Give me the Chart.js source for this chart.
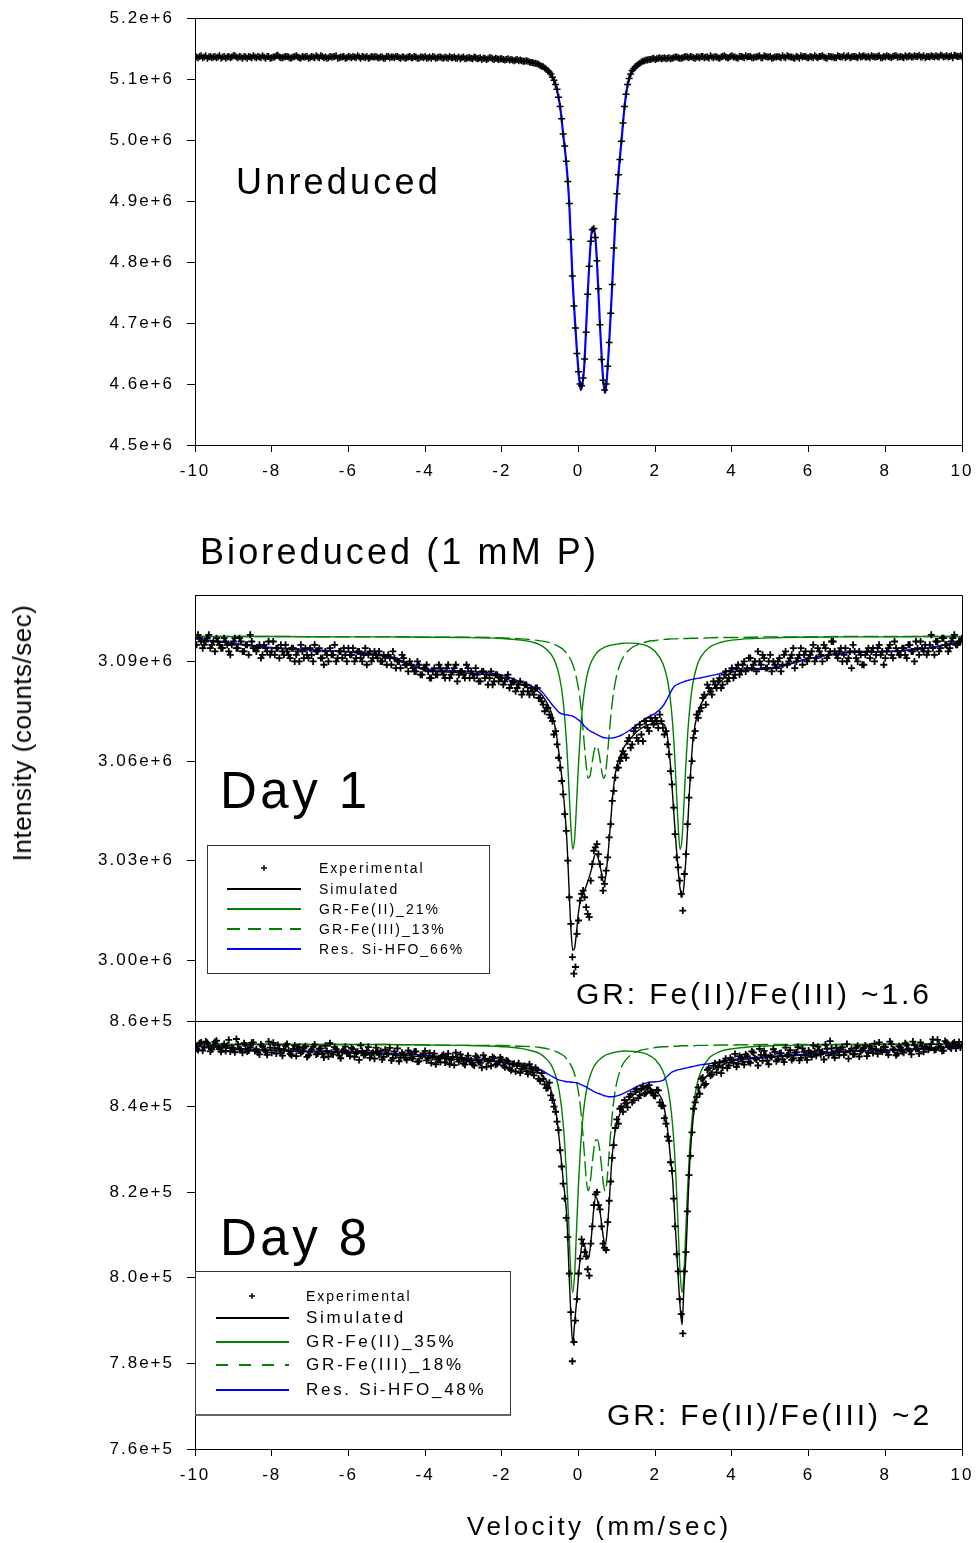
<!DOCTYPE html>
<html>
<head>
<meta charset="utf-8">
<script src="https://cdn.jsdelivr.net/npm/chart.js@4.4.1/dist/chart.umd.min.js"></script>
<style>
body { margin:0; background:#fff; width:976px; height:1543px; position:relative; overflow:hidden;
       font-family:"Liberation Sans", Arial, sans-serif; color:#000; }
canvas { position:absolute; left:0; }
.t { position:absolute; white-space:nowrap; line-height:1; z-index:2; }
.lg { position:absolute; border:1px solid #333; box-sizing:border-box; z-index:2; }
.row { position:absolute; left:0; right:0; height:20px; }
.row span { position:absolute; top:0; line-height:20px; white-space:nowrap; }
.smp { position:absolute; top:9px; height:1.5px; }
.cr { position:absolute; top:7px; }
</style>
</head>
<body>
<canvas id="c1" width="1000" height="520" style="top:-20px"></canvas>
<canvas id="c2" width="1000" height="490" style="top:560px"></canvas>
<canvas id="c3" width="1000" height="563" style="top:980px"></canvas>

<div class="t" style="left:236px;top:164px;font-size:36px;letter-spacing:3.2px">Unreduced</div>
<div class="t" style="left:200px;top:534px;font-size:36px;letter-spacing:3.1px">Bioreduced (1 mM P)</div>
<div class="t" style="left:220px;top:765px;font-size:51px;letter-spacing:3.5px">Day 1</div>
<div class="t" style="left:220px;top:1212px;font-size:51px;letter-spacing:3.5px">Day 8</div>
<div class="t" style="left:576px;top:979px;font-size:30px;letter-spacing:2.9px">GR: Fe(II)/Fe(III) ~1.6</div>
<div class="t" style="left:607px;top:1400px;font-size:30px;letter-spacing:2.9px">GR: Fe(II)/Fe(III) ~2</div>
<div class="t" style="left:467px;top:1513px;font-size:26px;letter-spacing:3.5px">Velocity (mm/sec)</div>
<div class="t" style="left:22px;top:733px;font-size:26px;letter-spacing:0.5px;transform:translate(-50%,-50%) rotate(-90deg)">Intensity (counts/sec)</div>

<div class="lg" style="left:207px;top:845px;width:283px;height:129px">
  <div class="row" style="top:12px"><svg class="cr" style="left:53px" width="6" height="6"><path d="M3 0V6M0 3H6" stroke="#000" stroke-width="1.4"/></svg><span style="left:111px;font-size:14px;letter-spacing:2px">Experimental</span></div>
  <div class="row" style="top:33px"><i class="smp" style="left:19px;width:74px;background:#000"></i><span style="left:111px;font-size:14px;letter-spacing:2px">Simulated</span></div>
  <div class="row" style="top:53px"><i class="smp" style="left:19px;width:74px;background:#008000"></i><span style="left:111px;font-size:14px;letter-spacing:2px">GR-Fe(II)_21%</span></div>
  <div class="row" style="top:73px"><i class="smp" style="left:19px;width:74px;background:repeating-linear-gradient(90deg,#008000 0 13px,transparent 13px 21px)"></i><span style="left:111px;font-size:14px;letter-spacing:2px">GR-Fe(III)_13%</span></div>
  <div class="row" style="top:93px"><i class="smp" style="left:19px;width:74px;background:#0000ff"></i><span style="left:111px;font-size:14px;letter-spacing:2px">Res. Si-HFO_66%</span></div>
</div>

<div class="lg" style="left:195px;top:1271px;width:316px;height:145px;border-bottom:2px solid #666">
  <div class="row" style="top:14px"><svg class="cr" style="left:53px" width="6" height="6"><path d="M3 0V6M0 3H6" stroke="#000" stroke-width="1.4"/></svg><span style="left:110px;font-size:14px;letter-spacing:2px">Experimental</span></div>
  <div class="row" style="top:36px"><i class="smp" style="left:20px;width:73px;background:#000"></i><span style="left:110px;font-size:17px;letter-spacing:2.7px">Simulated</span></div>
  <div class="row" style="top:60px"><i class="smp" style="left:20px;width:73px;background:#008000"></i><span style="left:110px;font-size:17px;letter-spacing:2.7px">GR-Fe(II)_35%</span></div>
  <div class="row" style="top:83px"><i class="smp" style="left:20px;width:73px;background:repeating-linear-gradient(90deg,#008000 0 12px,transparent 12px 23px)"></i><span style="left:110px;font-size:17px;letter-spacing:2.7px">GR-Fe(III)_18%</span></div>
  <div class="row" style="top:108px"><i class="smp" style="left:20px;width:73px;background:#0000ff"></i><span style="left:110px;font-size:17px;letter-spacing:2.7px">Res. Si-HFO_48%</span></div>
</div>

<script>
// velocity ticks and y ticks
var velTicks = [-10, -8, -6, -4, -2, 0, 2, 4, 6, 8, 10]
var yTicks1 = [4.5e6, 4.6e6, 4.7e6, 4.8e6, 4.9e6, 5.0e6, 5.1e6, 5.2e6]
var yTicks2 = [3.00e6, 3.03e6, 3.06e6, 3.09e6]
var yTicks3 = [7.6e5, 7.8e5, 8.0e5, 8.2e5, 8.4e5, 8.6e5]

// experimental channels, 0.04 mm/s apart: A = -10, -9.92 ... 10 ; B = -9.96, -9.88 ... 9.96
var velA = [], velB = []
for (var i = 0; i <= 250; i++) velA.push(Math.round((-10 + i * 0.08) * 100) / 100)
for (var j = 0; j < 250; j++) velB.push(Math.round((-9.96 + j * 0.08) * 100) / 100)

// Unreduced, counts/sec in thousands
var unredExpA = [
  5137,5135,5138,5136,5134,5137,5136,5135,5138,5136,
  5134,5137,5136,5138,5135,5136,5137,5134,5136,5138,
  5135,5136,5138,5134,5137,5135,5136,5139,5135,5136,
  5137,5134,5136,5138,5135,5137,5136,5134,5137,5135,
  5136,5138,5135,5134,5137,5136,5138,5135,5136,5134,
  5137,5135,5136,5138,5134,5136,5137,5135,5136,5137,
  5135,5136,5134,5137,5136,5135,5137,5134,5136,5135,
  5137,5135,5136,5134,5136,5137,5135,5134,5136,5135,
  5136,5134,5135,5137,5135,5134,5136,5135,5133,5135,
  5134,5136,5133,5135,5134,5132,5135,5133,5134,5132,
  5133,5131,5133,5132,5130,5132,5131,5129,5130,5128,
  5127,5126,5124,5121,5118,5114,5108,5098,5083,5055,
  5010,4965,4896,4777,4692,4620,4597,4641,4747,4834,
  4855,4802,4697,4606,4600,4668,4763,4870,4943,4998,
  5055,5091,5108,5117,5122,5126,5129,5131,5132,5133,
  5132,5134,5133,5135,5134,5133,5135,5136,5134,5135,
  5137,5135,5136,5134,5136,5137,5135,5136,5138,5135,
  5136,5134,5137,5136,5135,5138,5136,5134,5137,5135,
  5136,5137,5135,5136,5138,5135,5137,5136,5134,5136,
  5137,5135,5136,5138,5136,5135,5137,5134,5136,5137,
  5135,5136,5138,5135,5137,5136,5134,5137,5136,5135,
  5137,5136,5135,5138,5136,5137,5135,5136,5138,5136,
  5135,5137,5136,5138,5135,5136,5137,5135,5138,5136,
  5137,5135,5136,5138,5136,5137,5139,5136,5135,5137,
  5138,5136,5137,5139,5136,5138,5137,5135,5138,5137,5136
]
var unredExpB = [
  5136,5137,5135,5138,5136,5135,5137,5136,5134,5137,
  5136,5135,5138,5136,5137,5134,5136,5137,5135,5136,
  5137,5135,5136,5137,5134,5136,5138,5136,5135,5137,
  5136,5135,5137,5136,5134,5136,5137,5135,5136,5138,
  5135,5137,5136,5135,5136,5137,5134,5136,5137,5135,
  5136,5137,5135,5136,5137,5135,5134,5137,5136,5135,
  5136,5134,5137,5135,5136,5137,5135,5136,5134,5136,
  5135,5137,5134,5136,5135,5134,5136,5137,5134,5136,
  5135,5136,5134,5135,5136,5134,5133,5136,5134,5135,
  5133,5135,5134,5132,5134,5133,5135,5132,5133,5133,
  5132,5132,5131,5131,5131,5130,5130,5129,5129,5127,
  5126,5125,5122,5120,5116,5111,5103,5091,5070,5035,
  4990,4932,4837,4728,4650,4600,4610,4685,4793,4853,
  4840,4756,4640,4590,4629,4716,4823,4912,4968,5028,
  5075,5101,5114,5120,5124,5128,5130,5131,5132,5134,
  5133,5135,5134,5133,5135,5134,5136,5135,5134,5136,
  5136,5137,5135,5136,5135,5137,5136,5134,5136,5137,
  5135,5136,5138,5135,5137,5136,5135,5137,5136,5138,
  5137,5135,5136,5137,5135,5138,5136,5137,5135,5136,
  5136,5138,5135,5137,5136,5134,5136,5138,5137,5135,
  5137,5135,5136,5137,5138,5135,5137,5136,5135,5138,
  5136,5138,5137,5135,5137,5136,5138,5137,5136,5137,
  5138,5136,5137,5135,5137,5138,5136,5137,5138,5136,
  5136,5138,5137,5136,5138,5137,5136,5138,5137,5136,
  5137,5138,5136,5138,5137,5136,5138,5139,5137,5138
]
var unredFitVel = [
  -10,-8,-6,-4,-3,-2.4,-2,-1.6,-1.3,-1.1,
  -0.96,-0.88,-0.8,-0.72,-0.64,-0.56,-0.48,-0.4,-0.32,-0.24,
  -0.16,-0.08,0,0.06,0.12,0.16,0.24,0.32,0.36,0.4,
  0.44,0.48,0.56,0.64,0.7,0.76,0.8,0.88,0.96,1.04,
  1.12,1.2,1.28,1.36,1.44,1.6,1.8,2,2.4,3,
  4,6,8,10
]
var unredFit = [
  5136.2,5136.0,5135.8,5135.5,5135.0,5134.0,5132.6,5130.8,5128.5,5126.0,
  5121.5,5118.2,5114.0,5107.5,5097.5,5082.0,5055.0,5010.0,4964.0,4895.0,
  4778,4692,4621,4590,4608,4640,4748,4834,4856,4853,
  4840,4802,4697,4610,4586,4627,4668,4763,4868,4942,
  4998,5054,5090,5108,5117,5126,5131,5133,5134.8,5135.5,
  5136.0,5136.2,5136.3,5136.5
]

// Day 1
var day1ExpA = [
  3097,3098,3096,3095,3097,3094,3096,3097,3095,3094,
  3096,3093,3095,3097,3094,3096,3093,3095,3098,3094,
  3093,3095,3092,3094,3096,3093,3092,3094,3095,3092,
  3093,3091,3094,3092,3090,3093,3094,3091,3092,3095,
  3093,3091,3089,3092,3094,3092,3090,3093,3091,3092,
  3094,3092,3090,3093,3091,3092,3089,3093,3091,3092,
  3093,3090,3091,3092,3089,3091,3090,3088,3091,3089,
  3090,3088,3087,3089,3086,3088,3087,3085,3088,3086,
  3088,3086,3088,3085,3087,3089,3086,3087,3085,3088,
  3087,3085,3086,3084,3087,3086,3085,3083,3086,3084,
  3085,3084,3086,3083,3084,3082,3084,3081,3083,3080,
  3081,3082,3079,3078,3075,3076,3073,3068,3065,3058,
  3050,3039,3019,3001,2998,3012,3020,3019,3014,3024,
  3033,3035,3029,3021,3027,3037,3048,3055,3058,3061,
  3062,3066,3064,3069,3067,3071,3066,3072,3069,3072,
  3073,3070,3072,3068,3065,3057,3046,3031,3024,3015,
  3032,3049,3060,3069,3073,3076,3080,3083,3081,3084,
  3082,3085,3083,3087,3085,3088,3086,3089,3087,3090,
  3088,3091,3089,3087,3090,3092,3088,3090,3087,3089,
  3090,3087,3092,3089,3091,3094,3090,3092,3089,3093,
  3091,3093,3090,3094,3092,3095,3091,3093,3096,3092,
  3093,3090,3094,3091,3088,3093,3090,3092,3089,3093,
  3091,3094,3092,3095,3093,3091,3094,3092,3096,3093,
  3092,3094,3091,3095,3093,3096,3092,3094,3095,3093,
  3098,3092,3096,3094,3097,3095,3094,3097,3095,3096,3097
]
var day1ExpB = [
  3095,3097,3094,3096,3098,3095,3093,3096,3094,3097,
  3095,3092,3096,3094,3097,3093,3095,3092,3096,3094,
  3094,3091,3095,3093,3092,3096,3094,3091,3093,3095,
  3092,3094,3090,3093,3095,3091,3092,3094,3090,3093,
  3094,3091,3093,3090,3092,3095,3091,3093,3094,3090,
  3092,3094,3091,3093,3090,3094,3092,3090,3093,3091,
  3090,3092,3089,3091,3093,3088,3090,3092,3089,3087,
  3089,3087,3090,3086,3088,3089,3085,3087,3086,3089,
  3087,3085,3089,3086,3088,3084,3087,3086,3089,3085,
  3086,3088,3084,3087,3085,3083,3087,3084,3086,3085,
  3083,3085,3082,3084,3081,3083,3080,3083,3081,3082,
  3080,3082,3079,3077,3076,3074,3072,3069,3061,3054,
  3044,3030,3011,2996,3008,3018,3021,3016,3013,3029,
  3034,3032,3025,3023,3031,3041,3051,3058,3060,3063,
  3061,3067,3065,3070,3066,3068,3072,3070,3073,3071,
  3072,3074,3070,3069,3062,3053,3038,3028,3020,3026,
  3041,3055,3067,3074,3075,3079,3077,3082,3080,3083,
  3084,3082,3086,3084,3087,3085,3088,3086,3089,3087,
  3091,3088,3090,3093,3089,3091,3088,3092,3090,3088,
  3091,3089,3093,3090,3092,3088,3091,3094,3092,3090,
  3092,3095,3091,3093,3090,3094,3092,3096,3093,3091,
  3094,3092,3090,3093,3095,3091,3093,3089,3092,3094,
  3093,3090,3094,3092,3089,3093,3095,3091,3094,3092,
  3094,3092,3095,3093,3090,3094,3096,3093,3092,3095,
  3094,3096,3093,3097,3095,3093,3096,3098,3095,3096
]
// fit curves of the bioreduced samples share this velocity list
var fitVel = [
  -10,-8,-6,-5,-4,-3,-2,-1.5,-1.2,-1.0,
  -0.8,-0.7,-0.6,-0.5,-0.4,-0.3,-0.25,-0.2,-0.15,-0.1,
  -0.05,0,0.05,0.1,0.15,0.2,0.25,0.3,0.35,0.4,
  0.45,0.5,0.55,0.6,0.65,0.7,0.75,0.8,0.85,0.9,
  0.95,1.0,1.1,1.2,1.4,1.6,1.8,2.0,2.2,2.3,
  2.35,2.4,2.45,2.5,2.55,2.6,2.65,2.7,2.75,2.8,
  2.85,2.9,2.95,3.0,3.1,3.2,3.4,3.7,4,5,
  6,7,8,9,10
]
var day1Sim = [
  3096.8,3094.0,3092.8,3091.4,3087.4,3086.6,3085.2,3083.0,3081.8,3080.5,
  3077.0,3074.3,3069.7,3061.5,3051.0,3035.5,3022.5,3010.0,3003.0,3003.8,
  3008.8,3014.5,3018.0,3019.5,3020.8,3022.3,3024.0,3025.8,3028.0,3030.8,
  3032.0,3031.3,3029.0,3026.3,3023.5,3024.5,3029.5,3036.0,3043.5,3050.5,
  3055.5,3058.5,3062.0,3064.4,3067.4,3069.6,3070.8,3071.4,3071.3,3068.7,
  3064.5,3058.5,3050.5,3042.0,3034.0,3027.0,3021.5,3019.0,3022.5,3030.5,
  3041.0,3052.5,3061.5,3068.0,3074.0,3077.3,3080.5,3083.9,3086.8,3087.8,
  3090.8,3092.6,3092.9,3093.8,3095.9
]
var day1Fe2 = [
  3097.5,3097.5,3097.4,3097.4,3097.3,3097.2,3096.9,3096.4,3095.8,3095.0,
  3093.3,3091.9,3089.6,3085.6,3078.1,3063.4,3052.2,3040.4,3033.5,3036.7,
  3047.3,3059.2,3068.8,3075.9,3080.8,3084.4,3087.0,3088.9,3090.3,3091.3,
  3092.2,3092.9,3093.4,3093.8,3094.1,3094.4,3094.6,3094.8,3094.9,3095.0,
  3095.1,3095.2,3095.4,3095.5,3095.5,3095.3,3094.6,3093.0,3089.4,3085.5,
  3082.4,3078.0,3071.9,3063.3,3052.1,3040.3,3033.4,3036.6,3047.2,3059.1,
  3068.7,3075.8,3080.9,3084.5,3089.0,3091.5,3094.1,3095.7,3096.4,3097.1,
  3097.3,3097.4,3097.4,3097.5,3097.5
]
var day1Fe3 = [
  3097.5,3097.5,3097.4,3097.4,3097.3,3097.3,3097.1,3096.8,3096.5,3096.2,
  3095.8,3095.4,3095.0,3094.4,3093.6,3092.3,3091.5,3090.5,3089.1,3087.3,
  3084.9,3081.8,3077.5,3072.0,3065.3,3058.8,3054.9,3055.5,3059.0,3062.6,
  3064.5,3064.0,3061.3,3057.4,3054.8,3056.0,3061.3,3068.1,3074.4,3079.4,
  3083.2,3086.0,3089.7,3091.9,3094.2,3095.3,3096.0,3096.3,3096.6,3096.7,
  3096.7,3096.8,3096.8,3096.8,3096.8,3096.9,3096.9,3096.9,3096.9,3096.9,
  3096.9,3097.0,3097.0,3097.0,3097.0,3097.0,3097.1,3097.2,3097.2,3097.4,
  3097.4,3097.5,3097.5,3097.5,3097.5
]
var day1Res = [
  3096.9,3094.2,3093.0,3091.8,3087.8,3087.1,3085.9,3083.8,3082.4,3081.4,
  3078.7,3077.2,3075.8,3074.6,3074.1,3073.9,3073.8,3073.7,3073.5,3073.2,
  3072.8,3072.4,3071.9,3071.3,3070.6,3070.0,3069.5,3069.1,3068.8,3068.5,
  3068.2,3067.9,3067.6,3067.3,3067.1,3067.0,3066.9,3066.9,3066.9,3067.0,
  3067.1,3067.3,3067.7,3068.3,3069.8,3071.6,3073.2,3074.4,3076.5,3078.5,
  3079.6,3080.7,3081.7,3082.5,3082.9,3083.2,3083.5,3083.7,3083.9,3084.1,
  3084.3,3084.4,3084.6,3084.7,3084.9,3085.1,3085.6,3086.4,3087.5,3088.1,
  3090.9,3092.7,3093.0,3093.9,3096.0
]

// Day 8
var day8ExpA = [
  854.5,853.2,855.0,853.8,854.9,852.9,854.3,855.4,853.5,854.1,
  853.0,855.6,853.8,852.7,854.5,853.3,854.8,852.9,853.9,855.0,
  853.4,852.2,854.1,853.0,855.2,852.6,853.7,854.4,852.5,853.2,
  854.6,852.3,853.5,851.8,853.9,852.9,854.1,852.0,853.3,854.5,
  852.4,853.6,851.5,853.0,854.8,852.2,853.4,851.9,852.9,854.0,
  852.5,853.7,851.6,852.8,854.3,852.0,853.1,851.4,852.6,853.8,
  852.1,851.0,853.3,852.4,850.8,852.9,853.6,851.5,852.2,850.9,
  852.5,851.2,852.9,850.6,851.8,853.0,851.3,850.2,852.4,851.0,
  850.4,852.1,851.3,849.9,851.6,852.6,850.5,851.4,849.8,851.9,
  850.8,849.6,851.5,850.2,852.0,849.3,850.9,851.6,849.8,850.4,
  851.0,849.2,850.6,848.5,850.0,849.6,847.9,849.4,848.3,849.9,
  848.0,849.1,846.5,847.8,845.2,844.4,842.6,840.0,836.5,829.8,
  822.0,814.0,801.0,780.5,790.0,801.0,809.0,806.0,802.0,808.0,
  817.0,820.0,816.0,808.0,806.5,818.0,828.0,835.0,836.0,840.0,
  841.5,839.8,842.9,841.5,844.0,842.6,844.8,843.2,845.0,843.3,
  842.5,843.8,840.2,837.3,833.0,827.0,818.5,805.5,795.0,787.0,
  806.0,824.0,834.0,841.0,844.5,846.5,845.0,848.6,847.2,849.5,
  848.0,850.3,849.1,851.2,849.6,850.9,852.3,850.0,851.5,849.8,
  851.8,850.2,852.6,851.0,853.5,850.7,852.0,849.9,851.6,852.8,
  851.1,852.5,850.4,852.0,853.2,851.3,852.7,850.8,853.6,851.9,
  853.1,851.6,852.9,854.0,852.2,851.0,853.5,855.3,852.4,853.8,
  852.0,853.9,852.7,851.2,853.5,852.3,854.2,852.9,853.7,851.8,
  854.0,852.5,853.4,855.0,852.8,853.9,852.1,854.6,853.2,852.4,
  853.8,852.6,854.4,853.0,855.2,853.5,852.4,854.1,853.9,853.3,
  854.6,853.2,855.6,854.0,853.1,855.0,853.9,854.7,853.6,855.1,854.3
]
var day8ExpB = [
  853.6,854.8,853.1,855.2,854.0,853.4,855.1,853.9,852.8,854.6,
  854.2,852.9,853.6,855.8,853.4,852.6,854.3,853.1,854.9,853.0,
  852.7,854.5,853.3,852.1,853.8,854.9,852.4,853.5,851.9,854.2,
  853.1,852.0,854.3,853.4,852.5,853.7,851.6,852.8,854.0,852.2,
  853.5,852.3,854.2,851.7,852.6,853.9,852.8,851.3,853.2,852.4,
  851.8,853.4,852.5,850.9,853.0,852.1,853.9,852.4,851.2,852.9,
  853.0,851.6,852.3,853.7,851.3,852.0,850.6,852.6,851.4,853.1,
  851.4,852.8,850.5,851.9,852.3,850.8,852.5,851.6,849.9,851.3,
  851.8,850.3,852.4,850.9,849.7,851.5,852.2,850.1,851.0,850.6,
  849.9,851.8,850.4,849.1,851.2,850.6,849.5,851.3,850.0,851.5,
  849.6,850.8,848.9,849.9,848.2,850.1,848.8,849.5,847.6,848.9,
  847.3,848.5,846.0,846.5,844.3,845.6,841.5,838.8,834.5,826.0,
  818.5,809.5,792.0,785.0,795.0,804.5,808.0,805.0,800.5,812.0,
  819.5,817.0,812.0,807.0,813.0,822.5,831.0,837.0,839.5,838.8,
  840.8,842.3,841.0,843.5,842.0,844.2,843.0,844.5,843.6,842.6,
  843.9,841.0,840.2,836.0,832.0,825.0,812.0,801.5,791.5,801.5,
  815.5,828.5,839.5,842.2,843.0,846.8,845.3,849.0,847.5,850.1,
  849.2,847.8,850.6,849.0,851.4,850.2,849.3,851.8,850.5,852.2,
  850.5,852.9,851.3,849.6,852.1,853.0,850.8,851.9,853.4,850.6,
  852.4,851.0,853.8,852.2,850.9,852.6,853.9,851.4,852.8,850.9,
  852.6,854.3,851.9,853.2,852.8,854.5,852.0,853.6,851.4,853.0,
  853.4,852.1,854.6,853.0,852.2,853.8,851.7,853.2,854.3,852.6,
  853.6,854.7,852.3,853.1,854.0,852.7,855.2,853.4,852.0,854.1,
  852.9,854.8,853.5,852.2,854.3,853.6,855.0,852.8,854.0,853.7,
  855.7,853.4,854.5,853.0,855.3,854.1,853.6,855.0,854.4,853.8
]
var day8Sim = [
  854.2,853.1,852.6,852.2,851.6,850.9,850.3,849.3,848.6,847.8,
  845.6,843.3,839.7,832.2,822.9,813.5,802.0,791.5,784.7,789.5,
  794.5,800.5,805.0,808.2,807.8,806.1,804.4,806.5,811.0,816.3,
  818.9,818.0,816.2,812.8,809.4,807.8,811.2,817.5,825.0,830.5,
  834.0,836.1,838.8,840.5,842.5,843.7,844.2,843.7,841.0,836.2,
  832.5,827.8,823.5,815.8,808.0,800.0,793.3,789.0,798.0,804.9,
  816.5,826.8,833.2,838.0,842.8,845.0,847.8,849.5,850.6,851.5,
  852.1,852.9,853.1,853.4,854.1
]
var day8Fe2 = [
  854.6,854.5,854.5,854.5,854.4,854.3,854.0,853.6,853.0,852.3,
  850.8,849.5,847.3,843.5,836.1,821.9,811.5,801.2,796.6,801.2,
  811.5,821.9,830.2,836.1,840.4,843.4,845.6,847.1,848.3,849.3,
  850.0,850.6,851.0,851.4,851.7,852.0,852.2,852.3,852.5,852.6,
  852.7,852.8,852.9,853.0,852.9,852.7,852.2,851.0,848.3,845.5,
  843.3,840.3,836.0,830.1,821.8,811.4,801.1,796.6,801.2,811.5,
  821.9,830.2,836.1,840.4,845.6,848.4,851.3,852.9,853.5,854.2,
  854.4,854.5,854.5,854.6,854.6
]
var day8Fe3 = [
  854.6,854.6,854.5,854.5,854.4,854.3,854.3,854.1,854.0,853.8,
  853.5,853.2,852.9,852.5,852.0,851.1,850.5,849.7,848.8,847.5,
  845.7,843.3,839.9,835.2,829.3,823.4,820.3,821.9,826.1,830.0,
  832.2,832.2,830.0,826.1,821.9,820.3,823.4,829.3,835.2,839.9,
  843.3,845.7,848.8,850.5,852.3,853.1,853.5,853.8,854.0,854.0,
  854.1,854.1,854.1,854.1,854.1,854.1,854.2,854.2,854.2,854.2,
  854.2,854.2,854.2,854.2,854.3,854.3,854.3,854.4,854.4,854.5,
  854.5,854.5,854.6,854.6,854.6
]
var day8Res = [
  854.2,853.2,852.8,852.5,852.0,851.3,850.5,849.8,849.3,848.7,
  847.6,847.1,846.6,846.2,846.0,845.8,845.8,845.7,845.7,845.6,
  845.6,845.4,845.2,845.0,844.8,844.6,844.3,844.0,843.8,843.5,
  843.3,843.1,843.0,842.8,842.6,842.5,842.4,842.3,842.3,842.3,
  842.4,842.5,842.8,843.2,844.1,845.0,845.6,845.8,846.1,847.0,
  847.4,847.8,848.1,848.3,848.5,848.6,848.7,848.8,848.9,849.0,
  849.1,849.2,849.3,849.4,849.6,849.8,850.0,850.5,851.0,851.7,
  852.3,853.0,853.2,853.5,854.2
]

var FONT = '"Liberation Sans", Arial, sans-serif'
var GREEN = '#008000'
var BLUE = '#0000ff'

function pts(xs, ys) {
    return xs.map(function(x, i) { return { x: x, y: ys[i] * 1000 } })
}

function lineSet(label, xs, ys, color, width, dash, order) {
    return {
        label: label,
        data: pts(xs, ys),
        borderColor: color,
        borderWidth: width,
        borderDash: dash,
        pointRadius: 0,
        fill: false,
        cubicInterpolationMode: 'monotone',
        order: order
    }
}

function expSet(xs, ys, lw) {
    return {
        label: 'Experimental',
        data: pts(xs, ys),
        showLine: false,
        pointStyle: 'cross',
        pointRadius: 3.5,
        pointBorderWidth: lw,
        borderColor: '#000',
        backgroundColor: '#000',
        order: 0
    }
}

// top and right edges of the plot box, plus wide tick lettering
var boxPlugin = {
    id: 'box',
    beforeDraw: function(chart) {
        chart.ctx.letterSpacing = '2px'
    },
    afterDraw: function(chart) {
        var a = chart.chartArea, c = chart.ctx
        var top = Math.round(a.top) + 0.5, right = Math.round(a.right) + 0.5
        c.save()
        c.strokeStyle = '#000'
        c.lineWidth = 1
        c.beginPath()
        c.moveTo(a.left, top)
        c.lineTo(right, top)
        c.lineTo(right, a.bottom)
        c.stroke()
        c.restore()
    }
}

// area = wanted plot box inside the canvas: top, right, bottom
function drawPanel(id, datasets, yMin, yMax, yTicks, digits, showX, xHeight, area) {
    var canvas = document.getElementById(id)
    var chart = new Chart(canvas, {
        type: 'line',
        data: { datasets: datasets },
        options: {
            responsive: false,
            animation: false,
            devicePixelRatio: 1,
            events: [],
            layout: { padding: { top: area.top, right: canvas.width - area.right, left: 0, bottom: 0 } },
            plugins: { legend: { display: false }, tooltip: { enabled: false } },
            scales: {
                x: {
                    type: 'linear', min: -10, max: 10, display: showX,
                    afterFit: function(s) { s.height = xHeight },
                    afterBuildTicks: function(s) { s.ticks = velTicks.map(function(v) { return { value: v } }) },
                    ticks: {
                        autoSkip: false, maxRotation: 0, padding: 9, color: '#000',
                        font: { family: FONT, size: 17 },
                        callback: function(v) { return String(v) }
                    },
                    grid: { drawOnChartArea: false, tickLength: 7, color: '#000' },
                    border: { color: '#000' }
                },
                y: {
                    min: yMin, max: yMax,
                    afterFit: function(s) { s.width = 195 },
                    afterBuildTicks: function(s) { s.ticks = yTicks.map(function(v) { return { value: v } }) },
                    ticks: {
                        autoSkip: false, padding: 13, color: '#000',
                        font: { family: FONT, size: 17 },
                        callback: function(v) { return Number(v).toExponential(digits) }
                    },
                    grid: { drawOnChartArea: false, tickLength: 8, color: '#000' },
                    border: { color: '#000' }
                }
            }
        },
        plugins: [boxPlugin]
    })
    // nudge the padding so the plot box lands where the figure has it
    for (var k = 0; k < 3; k++) {
        var a = chart.chartArea, p = chart.options.layout.padding
        p.top += area.top - a.top
        p.right += a.right - area.right
        p.bottom = Math.max(0, p.bottom + a.bottom - area.bottom)
        chart.update()
    }
    return chart
}

// canvas c1 starts 20px above the page, c3 at 980px
drawPanel('c1', [
    expSet(velA, unredExpA, 1.5),
    expSet(velB, unredExpB, 1.5),
    lineSet('Fit', unredFitVel, unredFit, BLUE, 2.2, [], 1)
], 4.5e6, 5.2e6, yTicks1, 1, true, 55, { top: 38, right: 962, bottom: 465 })

drawPanel('c2', [
    expSet(velA, day1ExpA, 1.8),
    expSet(velB, day1ExpB, 1.8),
    lineSet('Res. Si-HFO_66%', fitVel, day1Res, BLUE, 1.4, [], 1),
    lineSet('Simulated', fitVel, day1Sim, '#000', 1.4, [], 2),
    lineSet('GR-Fe(III)_13%', fitVel, day1Fe3, GREEN, 1.4, [15, 5], 3),
    lineSet('GR-Fe(II)_21%', fitVel, day1Fe2, GREEN, 1.4, [], 4)
], 2.98e6, 3.11e6, yTicks2, 2, false, 0, { top: 35, right: 962, bottom: 461 })

drawPanel('c3', [
    expSet(velA, day8ExpA, 1.8),
    expSet(velB, day8ExpB, 1.8),
    lineSet('Res. Si-HFO_48%', fitVel, day8Res, BLUE, 1.4, [], 1),
    lineSet('Simulated', fitVel, day8Sim, '#000', 1.4, [], 2),
    lineSet('GR-Fe(III)_18%', fitVel, day8Fe3, GREEN, 1.4, [15, 5], 3),
    lineSet('GR-Fe(II)_35%', fitVel, day8Fe2, GREEN, 1.4, [], 4)
], 7.6e5, 8.6e5, yTicks3, 1, true, 94, { top: 41, right: 962, bottom: 469 })
</script>
</body>
</html>
